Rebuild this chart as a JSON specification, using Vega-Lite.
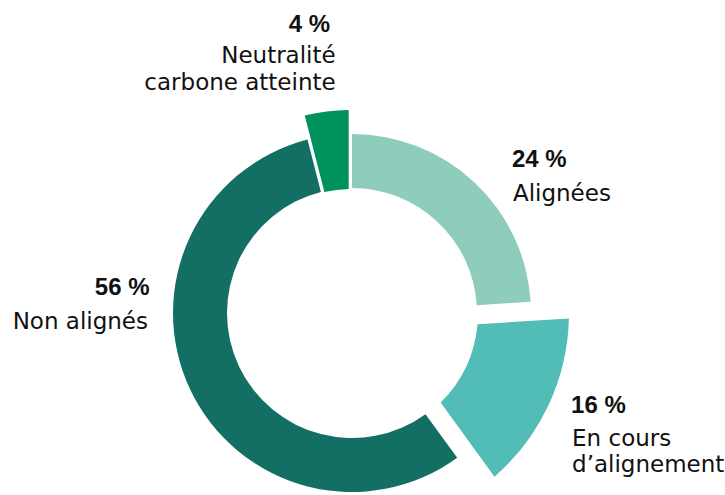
{
  "$schema": "https://vega.github.io/schema/vega-lite/v6.json",
  "autosize": "none",
  "width": 704,
  "height": 364,
  "padding": {"left": 0, "top": 131, "right": 21, "bottom": 0},
  "background": "white",
  "config": {"view": {"stroke": null}},
  "data": {
    "values": [
      {"k": 1, "cat": "Alignées", "v": 24, "pct": "24 %", "label": "Alignées"},
      {"k": 2, "cat": "En cours d’alignement", "v": 16, "pct": "16 %", "label": "En cours\nd’alignement"},
      {"k": 3, "cat": "Non alignés", "v": 56, "pct": "56 %", "label": "Non alignés"},
      {"k": 4, "cat": "Neutralité carbone atteinte", "v": 4, "pct": "4 %", "label": "Neutralité\ncarbone atteinte"}
    ]
  },
  "encoding": {
    "theta": {"field": "v", "type": "quantitative", "stack": true, "scale": {"domain": [0, 100]}},
    "order": {"field": "k", "type": "quantitative"}
  },
  "layer": [
    {
      "mark": {"type": "arc", "innerRadius": 125, "outerRadius": 179},
      "encoding": {
        "color": {"field": "cat", "type": "nominal", "legend": null,
          "scale": {"domain": ["Alignées", "En cours d’alignement", "Non alignés", "Neutralité carbone atteinte"],
                    "range": ["#8ecdbb", "#52bcb6", "#136f63", "#00925c"]}},
        "opacity": {"condition": {"test": "datum.k == 1 || datum.k == 3", "value": 1}, "value": 0}
      }
    },
    {
      "mark": {"type": "arc", "innerRadius": 126, "outerRadius": 217, "padAngle": 0.152},
      "encoding": {
        "color": {"field": "cat", "type": "nominal", "legend": null},
        "opacity": {"condition": {"test": "datum.k == 2", "value": 1}, "value": 0}
      }
    },
    {
      "mark": {"type": "arc", "innerRadius": 124, "outerRadius": 203, "padAngle": 0.028},
      "encoding": {
        "color": {"field": "cat", "type": "nominal", "legend": null},
        "opacity": {"condition": {"test": "datum.k == 4", "value": 1}, "value": 0}
      }
    },
    {
      "mark": {"type": "text", "radius": 200, "align": "left", "baseline": "alphabetic", "dx": 23, "dy": 0,
               "font": "Liberation Sans", "fontSize": 24, "fontWeight": "bold", "color": "#111111"},
      "encoding": {"text": {"condition": {"test": "datum.k == 1", "field": "pct", "type": "nominal"}, "value": ""}}
    },
    {
      "mark": {"type": "text", "radius": 200, "align": "left", "baseline": "alphabetic", "dx": 24, "dy": 34,
               "font": "DejaVu Sans", "fontSize": 23, "color": "#111111", "lineBreak": "\n", "lineHeight": 27},
      "encoding": {"text": {"condition": {"test": "datum.k == 1", "field": "label", "type": "nominal"}, "value": ""}}
    },
    {
      "mark": {"type": "text", "radius": 220, "align": "left", "baseline": "alphabetic", "dx": 20, "dy": 6,
               "font": "Liberation Sans", "fontSize": 24, "fontWeight": "bold", "color": "#111111"},
      "encoding": {"text": {"condition": {"test": "datum.k == 2", "field": "pct", "type": "nominal"}, "value": ""}}
    },
    {
      "mark": {"type": "text", "radius": 220, "align": "left", "baseline": "alphabetic", "dx": 21, "dy": 39,
               "font": "DejaVu Sans", "fontSize": 23, "color": "#111111", "lineBreak": "\n", "lineHeight": 26},
      "encoding": {"text": {"condition": {"test": "datum.k == 2", "field": "label", "type": "nominal"}, "value": ""}}
    },
    {
      "mark": {"type": "text", "radius": 205, "align": "right", "baseline": "alphabetic", "dx": -17, "dy": -105.3,
               "font": "Liberation Sans", "fontSize": 24, "fontWeight": "bold", "color": "#111111"},
      "encoding": {"text": {"condition": {"test": "datum.k == 3", "field": "pct", "type": "nominal"}, "value": ""}}
    },
    {
      "mark": {"type": "text", "radius": 205, "align": "right", "baseline": "alphabetic", "dx": -18.5, "dy": -71.3,
               "font": "DejaVu Sans", "fontSize": 23, "color": "#111111", "lineBreak": "\n", "lineHeight": 27},
      "encoding": {"text": {"condition": {"test": "datum.k == 3", "field": "label", "type": "nominal"}, "value": ""}}
    },
    {
      "mark": {"type": "text", "radius": 250, "align": "right", "baseline": "alphabetic", "dx": 9.5, "dy": -33,
               "font": "Liberation Sans", "fontSize": 24, "fontWeight": "bold", "color": "#111111"},
      "encoding": {"text": {"condition": {"test": "datum.k == 4", "field": "pct", "type": "nominal"}, "value": ""}}
    },
    {
      "mark": {"type": "text", "radius": 250, "align": "right", "baseline": "alphabetic", "dx": 15, "dy": -2,
               "font": "DejaVu Sans", "fontSize": 23, "color": "#111111", "lineBreak": "\n", "lineHeight": 27},
      "encoding": {"text": {"condition": {"test": "datum.k == 4", "field": "label", "type": "nominal"}, "value": ""}}
    }
  ]
}
